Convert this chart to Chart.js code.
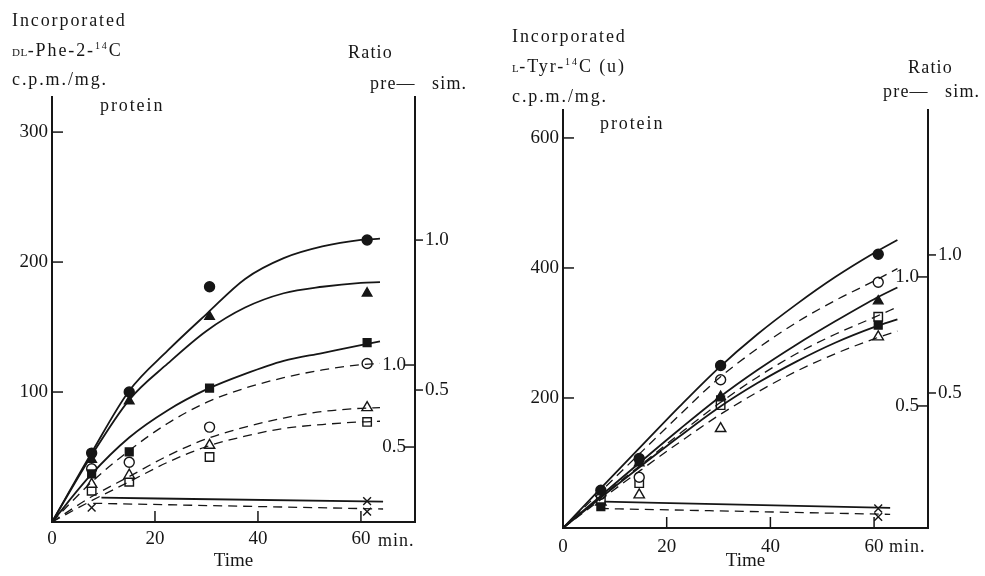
<!DOCTYPE html>
<html>
<head>
<meta charset="utf-8">
<script src="https://cdn.jsdelivr.net/npm/chart.js@4.4.0/dist/chart.umd.min.js"></script>
<style>
  body { margin: 0; width: 985px; height: 576px; background: #fff; position: relative; overflow: hidden;
         font-family: "Liberation Serif", "DejaVu Serif", serif; color: #161616; }
  canvas { position: absolute; top: 0; }
  #phe { left: 0; }
  #tyr { left: 490px; }
  .lbl { position: absolute; font-size: 18px; letter-spacing: 1.9px; white-space: nowrap; line-height: 1; }
  .sc { font-size: 11px; letter-spacing: 0.5px; }
  .lbl sup { font-size: 10px; line-height: 0; }
</style>
</head>
<body>
<canvas id="phe" width="490" height="576"></canvas>
<canvas id="tyr" width="495" height="576"></canvas>

<div class="lbl" style="left:12px;top:11px">Incorporated</div>
<div class="lbl" style="left:12px;top:41px"><span class="sc">DL</span>-Phe-2-<sup>14</sup>C</div>
<div class="lbl" style="left:12px;top:70px">c.p.m./mg.</div>
<div class="lbl" style="left:100px;top:96px">protein</div>
<div class="lbl" style="left:348px;top:43px;letter-spacing:1.2px">Ratio</div>
<div class="lbl" style="left:370px;top:74px;letter-spacing:1.2px">pre—</div>
<div class="lbl" style="left:432px;top:74px;letter-spacing:1.2px">sim.</div>
<div class="lbl" style="left:378px;top:531px;letter-spacing:1px">min.</div>

<div class="lbl" style="left:512px;top:27px">Incorporated</div>
<div class="lbl" style="left:512px;top:57px"><span class="sc">L</span>-Tyr-<sup>14</sup>C (u)</div>
<div class="lbl" style="left:512px;top:87px">c.p.m./mg.</div>
<div class="lbl" style="left:600px;top:114px">protein</div>
<div class="lbl" style="left:908px;top:58px;letter-spacing:1.2px">Ratio</div>
<div class="lbl" style="left:883px;top:82px;letter-spacing:1.2px">pre—</div>
<div class="lbl" style="left:945px;top:82px;letter-spacing:1.2px">sim.</div>
<div class="lbl" style="left:889px;top:537px;letter-spacing:1px">min.</div>

<script>
// DL-Phe-2-14C: sampling times (min) and incorporation (c.p.m./mg protein)
const pheTimes = [7.7, 15, 30.6, 61.2];
const pheCircleFilled = [53, 100, 181, 217];
const pheTriFilled = [48, 93, 158, 176];
const pheSquareFilled = [37, 54, 103, 138];
const pheCircleOpen = [41, 46, 73, 122];
const pheTriOpen = [29, 36, 59, 88];
const pheSquareOpen = [24, 31, 50, 77];
const pheCrossTimes = [7.7, 61.2];
const pheCrossLower = [11, 8];
const pheCrossUpperTimes = [61.2];
const pheCrossUpper = [16];

// DL-Phe fitted curves
const pheFitTimes = [0, 7.5, 15, 22.5, 30, 37.5, 45, 52.5, 60, 63.7];
const pheFitCircle = [0, 52, 101, 132, 160, 187, 203, 212, 217, 218];
const pheFitTri = [0, 50, 94, 122, 147, 165, 176, 181, 184, 184.5];
const pheFitSquare = [0, 36, 65, 86, 102, 114, 124, 130, 136, 139];
const pheFitCircleOpen = [0, 30, 55, 76, 92, 103, 111, 117, 121, 122];
const pheFitTriOpen = [0, 19, 35, 51, 64, 73, 80, 85, 87.5, 88];
const pheFitSquareOpen = [0, 16, 31, 46, 58, 66, 72, 75, 77, 77.5];
const pheBaseSolidTimes = [9.6, 64.3];
const pheBaseSolid = [18.7, 15.6];
const pheBaseDashedTimes = [8, 64.3];
const pheBaseDashed = [14.4, 10];

// L-Tyr-14C (u): sampling times and incorporation
const tyrTimes = [7.3, 14.7, 30.4, 60.8];
const tyrCircleFilled = [58, 107, 250, 421];
const tyrCircleOpen = [52, 78, 228, 378];
const tyrTriFilled = [54, 100, 202, 349];
const tyrSquareOpen = [45, 69, 189, 325];
const tyrSquareFilled = [33, 105, 197, 312];
const tyrTriOpen = [40, 51, 153, 294];
const tyrCrossTimes = [60.8];
const tyrCrossUpper = [30];
const tyrCrossLower = [17];

// L-Tyr fitted curves
const tyrFitTimes = [0, 7.5, 15, 22.5, 30, 37.5, 45, 52.5, 60, 64.5];
const tyrFitCircle = [0, 63, 125, 187, 246, 298, 344, 386, 423, 443];
const tyrFitCircleOpen = [0, 58, 116, 174, 230, 276, 316, 350, 380, 399];
const tyrFitTri = [0, 51, 102, 152, 200, 243, 282, 318, 352, 370];
const tyrFitSquareOpen = [0, 49, 97, 145, 191, 232, 268, 298, 324, 340];
const tyrFitSquare = [0, 48, 95, 141, 185, 223, 256, 285, 309, 321];
const tyrFitTriOpen = [0, 45, 89, 132, 173, 209, 241, 268, 291, 303];
const tyrBaseSolidTimes = [8, 63.1];
const tyrBaseSolid = [40.5, 31];
const tyrBaseDashedTimes = [7.1, 63.1];
const tyrBaseDashed = [30, 21];

// tick values
const timeTicks = [0, 20, 40, 60];
const pheTicks = [100, 200, 300];
const tyrTicks = [200, 400, 600];
const ratioTicks = [0.5, 1.0];

const INK = '#161616';
const serif = '"Liberation Serif", "DejaVu Serif", serif';

const pts = (xs, ys) => xs.map((x, i) => ({ x, y: ys[i] }));

function marks(xs, ys, style, filled, r) {
  return {
    data: pts(xs, ys), showLine: false, pointStyle: style,
    pointRadius: r || 5, pointHoverRadius: r || 5,
    pointBackgroundColor: filled ? INK : '#fff', pointBorderColor: INK, pointBorderWidth: 1.4
  };
}

function curve(xs, ys, dashed) {
  return {
    data: pts(xs, ys), showLine: true, pointRadius: 0, borderColor: INK,
    borderWidth: dashed ? 1.3 : 1.8, borderDash: dashed ? [9, 6] : [],
    cubicInterpolationMode: 'monotone'
  };
}

// short tick marks, drawn inward or outward from each axis line
const tickMarks = {
  id: 'tickMarks',
  afterDraw(chart, args, opts) {
    const ctx = chart.ctx;
    ctx.save();
    ctx.strokeStyle = INK;
    ctx.lineWidth = 1.5;
    Object.entries(opts.dirs).forEach(([id, dir]) => {
      const s = chart.scales[id];
      const len = dir === 'in' ? opts.inLength : opts.outLength;
      s.ticks.forEach(t => {
        if (t.value === 0) return;
        const p = s.getPixelForValue(t.value);
        ctx.beginPath();
        if (s.isHorizontal()) {
          ctx.moveTo(p, s.top); ctx.lineTo(p, s.top - len);
        } else if (s.position === 'left') {
          ctx.moveTo(s.right, p); ctx.lineTo(s.right + len, p);
        } else {
          ctx.moveTo(s.left, p); ctx.lineTo(dir === 'in' ? s.left - len : s.left + len, p);
        }
        ctx.stroke();
      });
    });
    ctx.restore();
  }
};

const tickFont = { family: serif, size: 19 };
const fixed = vals => s => { s.ticks = vals.map(v => ({ value: v })); };

function panel(id, cfg) {
  return new Chart(document.getElementById(id), {
    type: 'scatter',
    data: { datasets: cfg.datasets },
    options: {
      responsive: false,
      animation: false,
      devicePixelRatio: 1,
      layout: { padding: { top: cfg.top, left: 0, right: 0, bottom: 0 } },
      plugins: {
        legend: { display: false },
        tooltip: { enabled: false },
        tickMarks: { dirs: { x: 'in', y: 'in', pre: 'in', sim: 'out' }, inLength: 11, outLength: 8 }
      },
      scales: {
        x: {
          type: 'linear', position: 'bottom', min: 0, max: cfg.xMax,
          afterBuildTicks: fixed(timeTicks),
          afterFit: s => { s.height = cfg.xHeight; },
          grid: { drawOnChartArea: false, drawTicks: false },
          border: { color: INK, width: 2 },
          ticks: { font: tickFont, color: INK, padding: cfg.xPad, maxRotation: 0 },
          title: { display: true, text: 'Time', font: { family: serif, size: 19 }, color: INK,
                   padding: { top: 0, bottom: 4 } }
        },
        y: {
          type: 'linear', position: 'left', min: 0, max: cfg.yMax,
          afterBuildTicks: fixed(cfg.yTicks),
          afterFit: s => { s.width = cfg.left; },
          grid: { drawOnChartArea: false, drawTicks: false },
          border: { color: INK, width: 2 },
          ticks: { font: tickFont, color: INK, padding: 4 }
        },
        pre: {
          type: 'linear', position: 'right', weight: 0, min: cfg.pre[0], max: cfg.pre[1],
          afterBuildTicks: fixed(ratioTicks),
          afterFit: s => { s.width = 0; },
          grid: { drawOnChartArea: false, drawTicks: false },
          border: { display: false },
          ticks: { mirror: true, font: tickFont, color: INK, padding: -9, callback: v => v.toFixed(1) }
        },
        sim: {
          type: 'linear', position: 'right', weight: 1, min: cfg.sim[0], max: cfg.sim[1],
          afterBuildTicks: fixed(ratioTicks),
          afterFit: s => { s.width = cfg.rightWidth; },
          grid: { drawOnChartArea: false, drawTicks: false },
          border: { color: INK, width: 2 },
          ticks: { font: tickFont, color: INK, padding: 10, callback: v => v.toFixed(1) }
        }
      }
    },
    plugins: [tickMarks]
  });
}

panel('phe', {
  top: 97, left: 52, rightWidth: 75, xHeight: 54, xPad: 6, xMax: 70.5, yMax: 327,
  yTicks: pheTicks, pre: [0.043, 2.634], sim: [0.06, 1.477],
  datasets: [
    curve(pheFitTimes, pheFitCircle, false),
    curve(pheFitTimes, pheFitTri, false),
    curve(pheFitTimes, pheFitSquare, false),
    curve(pheFitTimes, pheFitCircleOpen, true),
    curve(pheFitTimes, pheFitTriOpen, true),
    curve(pheFitTimes, pheFitSquareOpen, true),
    curve(pheBaseSolidTimes, pheBaseSolid, false),
    curve(pheBaseDashedTimes, pheBaseDashed, true),
    marks(pheTimes, pheCircleFilled, 'circle', true, 5),
    marks(pheTimes, pheTriFilled, 'triangle', true, 5.5),
    marks(pheTimes, pheSquareFilled, 'rect', true, 5.5),
    marks(pheTimes, pheCircleOpen, 'circle', false, 5),
    marks(pheTimes, pheTriOpen, 'triangle', false, 6),
    marks(pheTimes, pheSquareOpen, 'rect', false, 6),
    marks(pheCrossTimes, pheCrossLower, 'crossRot', false, 5.5),
    marks(pheCrossUpperTimes, pheCrossUpper, 'crossRot', false, 5.5)
  ]
});

panel('tyr', {
  top: 110, left: 73, rightWidth: 57, xHeight: 48, xPad: 8, xMax: 70.4, yMax: 643,
  yTicks: tyrTicks, pre: [0.027, 1.647], sim: [0.011, 1.525],
  datasets: [
    curve(tyrFitTimes, tyrFitCircle, false),
    curve(tyrFitTimes, tyrFitCircleOpen, true),
    curve(tyrFitTimes, tyrFitTri, false),
    curve(tyrFitTimes, tyrFitSquareOpen, true),
    curve(tyrFitTimes, tyrFitSquare, false),
    curve(tyrFitTimes, tyrFitTriOpen, true),
    curve(tyrBaseSolidTimes, tyrBaseSolid, false),
    curve(tyrBaseDashedTimes, tyrBaseDashed, true),
    marks(tyrTimes, tyrCircleFilled, 'circle', true, 5),
    marks(tyrTimes, tyrCircleOpen, 'circle', false, 5),
    marks(tyrTimes, tyrTriFilled, 'triangle', true, 5.5),
    marks(tyrTimes, tyrSquareOpen, 'rect', false, 6),
    marks(tyrTimes, tyrSquareFilled, 'rect', true, 5.5),
    marks(tyrTimes, tyrTriOpen, 'triangle', false, 6),
    marks(tyrCrossTimes, tyrCrossUpper, 'crossRot', false, 5.5),
    marks(tyrCrossTimes, tyrCrossLower, 'crossRot', false, 5.5)
  ]
});
</script>
</body>
</html>
